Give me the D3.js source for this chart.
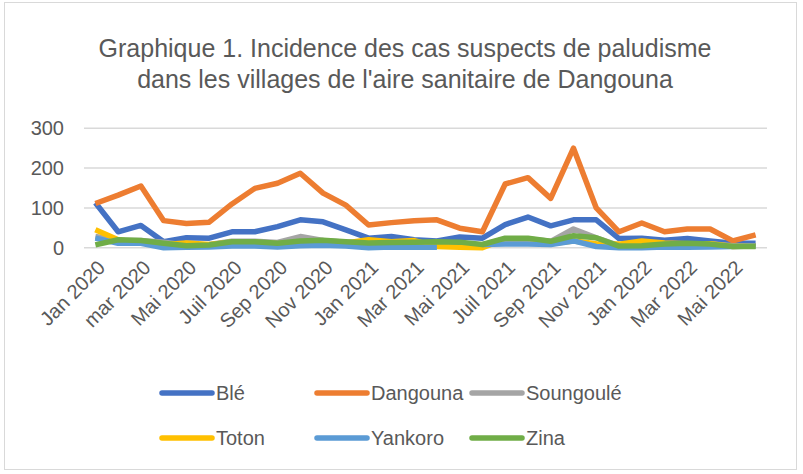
<!DOCTYPE html>
<html>
<head>
<meta charset="utf-8">
<script src="https://cdn.jsdelivr.net/npm/d3@7"></script>
<style>
  body { margin: 0; background: #fff; }
  text { font-family: "Liberation Sans", Arial, sans-serif; fill: #595959; }
</style>
</head>
<body>
<div id="chart"></div>
<script>
// months (one per category), only every other one is labelled
var months = ["Jan 2020", "févr 2020", "mar 2020", "avr 2020", "Mai 2020", "Juin 2020", "Juil 2020", "Août 2020",
  "Sep 2020", "Oct 2020", "Nov 2020", "Déc 2020", "Jan 2021", "Fév 2021", "Mar 2021", "Avr 2021", "Mai 2021",
  "Juin 2021", "Juil 2021", "Août 2021", "Sep 2021", "Oct 2021", "Nov 2021", "Déc 2021", "Jan 2022", "Fév 2022",
  "Mar 2022", "Avr 2022", "Mai 2022", "Juin 2022"];
var yTicks = [0, 100, 200, 300];

var ble       = [113, 40, 56, 15, 25, 24, 40, 40, 53, 70, 65, 45, 24, 28, 20, 17, 27, 24, 58, 77, 55, 70, 70, 23, 24, 19, 23, 17, 11, 11];
var dangouna  = [111, 132, 155, 68, 61, 64, 110, 149, 162, 187, 137, 107, 57, 63, 68, 70, 49, 40, 160, 176, 124, 250, 100, 40, 62, 40, 47, 47, 17, 32];
var soungoule = [28, 18, 18, 14, 6, 8, 16, 16, 13, 28, 18, 14, 10, 12, 13, 12, 12, 7, 22, 22, 16, 47, 25, 5, 6, 10, 10, 10, 5, 5];
var toton     = [45, 20, 12, 8, 12, 8, 14, 14, 10, 14, 15, 12, 20, 15, 18, 3, 1, 0, 22, 22, 10, 17, 10, 9, 17, 12, 10, 10, 3, 5];
var yankoro   = [24, 11, 11, 0, 1, 2, 4, 4, 2, 5, 6, 4, 0, 2, 1, 1, null, 8, 9, 9, 8, 17, 3, 0, 0, 2, 1, 2, 3, 4];
var zina      = [7, 20, 18, 11, 5, 7, 15, 15, 11, 17, 19, 15, 12, 13, 14, 15, 14, 8, 24, 24, 16, 30, 25, 4, 5, 9, 11, 9, 3, 3];

var series = [
  { name: "Blé", values: ble, color: "#4472C4" },
  { name: "Dangouna", values: dangouna, color: "#ED7D31" },
  { name: "Soungoulé", values: soungoule, color: "#A5A5A5" },
  { name: "Toton", values: toton, color: "#FFC000" },
  { name: "Yankoro", values: yankoro, color: "#5B9BD5" },
  { name: "Zina", values: zina, color: "#70AD47" }
];

var W = 803, H = 474;
var plot = { left: 84, right: 767, top: 128.3, bottom: 247.7 };

var svg = d3.select("#chart").append("svg")
  .attr("width", W)
  .attr("height", H);

// chart border
svg.append("rect")
  .attr("x", 4.5).attr("y", 2.5)
  .attr("width", 792).attr("height", 467)
  .attr("fill", "#fff")
  .attr("stroke", "#d9d9d9")
  .attr("stroke-width", 1);

// title
svg.append("text")
  .attr("x", 405).attr("text-anchor", "middle")
  .style("font-size", "25px")
  .selectAll("tspan")
  .data(["Graphique 1. Incidence des cas suspects de paludisme", "dans les villages de l'aire sanitaire de Dangouna"])
  .enter().append("tspan")
  .attr("x", 405)
  .attr("y", function (d, i) { return 57 + i * 31; })
  .text(function (d) { return d; });

var x = d3.scaleBand()
  .domain(months)
  .range([plot.left, plot.right]);
var y = d3.scaleLinear()
  .domain([0, 300])
  .range([plot.bottom, plot.top]);

// gridlines
svg.append("g")
  .selectAll("line")
  .data(yTicks)
  .enter().append("line")
  .attr("x1", plot.left).attr("x2", plot.right)
  .attr("y1", function (d) { return y(d); })
  .attr("y2", function (d) { return y(d); })
  .attr("stroke", "#d9d9d9")
  .attr("stroke-width", 1.5);

// y axis labels
var yAxis = svg.append("g")
  .attr("transform", "translate(" + plot.left + ",0)")
  .call(d3.axisLeft(y).tickValues(yTicks).tickSize(0).tickPadding(20));
yAxis.select(".domain").remove();
yAxis.selectAll("text")
  .style("font-size", "20px")
  .style("font-family", "Liberation Sans, Arial, sans-serif")
  .attr("fill", "#595959");

// x axis labels, rotated
var xAxis = svg.append("g")
  .attr("transform", "translate(0," + plot.bottom + ")")
  .call(d3.axisBottom(x)
    .tickValues(months.filter(function (d, i) { return i % 2 === 0; }))
    .tickSize(0));
xAxis.select(".domain").remove();
xAxis.selectAll("text")
  .style("font-size", "20px")
  .style("font-family", "Liberation Sans, Arial, sans-serif")
  .attr("fill", "#595959")
  .attr("text-anchor", "end")
  .attr("dy", "0.35em")
  .attr("transform", "translate(4,14) rotate(-45)");

// lines
var line = d3.line()
  .defined(function (d) { return d != null; })
  .x(function (d, i) { return x(months[i]) + x.bandwidth() / 2; })
  .y(function (d) { return y(d); });

svg.append("g")
  .selectAll("path")
  .data(series)
  .enter().append("path")
  .attr("fill", "none")
  .attr("stroke", function (d) { return d.color; })
  .attr("stroke-width", 5.5)
  .attr("stroke-linejoin", "round")
  .attr("d", function (d) { return line(d.values); });

// legend
var legend = svg.append("g")
  .selectAll("g")
  .data(series)
  .enter().append("g")
  .attr("transform", function (d, i) {
    return "translate(" + (162 + (i % 3) * 155) + "," + (393 + Math.floor(i / 3) * 45) + ")";
  });
legend.append("line")
  .attr("x1", 0).attr("x2", 50)
  .attr("stroke", function (d) { return d.color; })
  .attr("stroke-width", 5.5)
  .attr("stroke-linecap", "round");
legend.append("text")
  .attr("x", 54).attr("dy", "0.35em")
  .style("font-size", "20px")
  .text(function (d) { return d.name; });
</script>
</body>
</html>
